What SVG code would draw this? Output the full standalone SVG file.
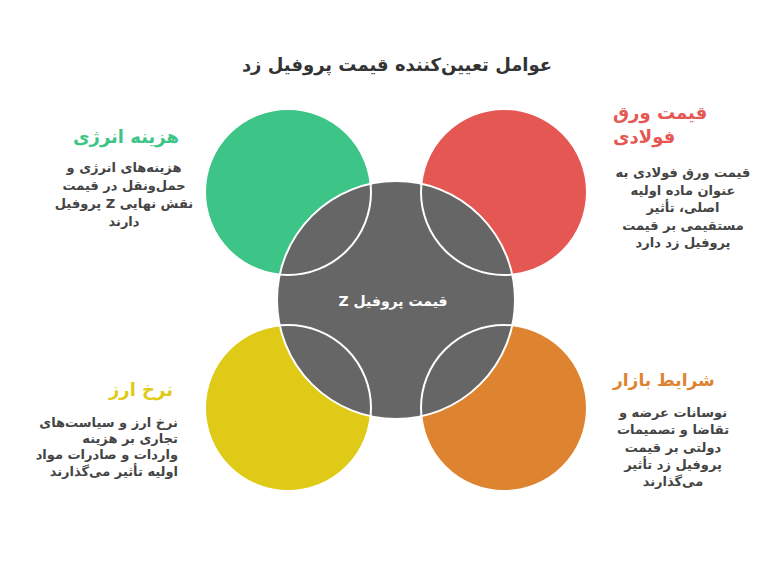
<svg xmlns="http://www.w3.org/2000/svg" xmlns:xlink="http://www.w3.org/1999/xlink" width="780" height="564" viewBox="0 0 780 564">
<style>
text{font-family:"DejaVu Sans","Noto Sans",sans-serif;font-weight:bold}
.title{font-size:18px;fill:#333333}
.head{font-size:18px}
.body{font-size:13px;fill:#444444}
.mid{text-anchor:middle}
.end{text-anchor:end}
.outline{fill:none;stroke:#ffffff;stroke-width:2}
</style>
<defs>
<circle id="s-energy" cx="288" cy="192" r="83"/>
<circle id="s-steel" cx="504" cy="192" r="83"/>
<circle id="s-fx" cx="288" cy="408" r="83"/>
<circle id="s-market" cx="504" cy="408" r="83"/>
</defs>
<rect width="780" height="564" fill="#ffffff"/>
<text class="title mid" x="397" y="71">عوامل تعیین‌کننده قیمت پروفیل زد</text>

<g id="node-energy">
<use xlink:href="#s-energy" fill="#3DC487"/>
<text class="head mid" x="126" y="143" fill="#3DC487">هزینه انرژی</text>
<text class="body mid"><tspan x="124" y="172">هزینه‌های انرژی و</tspan><tspan x="124" y="190">حمل‌ونقل در قیمت</tspan><tspan x="124" y="208">پروفیل Z  نقش نهایی</tspan><tspan x="124" y="226">دارند</tspan></text>
</g>

<g id="node-steel">
<use xlink:href="#s-steel" fill="#E55753"/>
<text class="head" fill="#E55753"><tspan x="613" y="119">قیمت ورق</tspan><tspan x="613" y="143">فولادی</tspan></text>
<text class="body mid"><tspan x="683" y="177">قیمت ورق فولادی به</tspan><tspan x="683" y="195">عنوان ماده اولیه</tspan><tspan x="683" y="212">اصلی، تأثیر</tspan><tspan x="683" y="230">مستقیمی بر قیمت</tspan><tspan x="683" y="247">پروفیل زد دارد</tspan></text>
</g>

<g id="node-fx">
<use xlink:href="#s-fx" fill="#DFCA17"/>
<text class="head end" x="173" y="396" fill="#DFCA17">نرخ ارز</text>
<text class="body end"><tspan x="178" y="427">نرخ ارز و سیاست‌های</tspan><tspan x="178" y="443">تجاری بر هزینه</tspan><tspan x="178" y="459">واردات و صادرات مواد</tspan><tspan x="178" y="476">اولیه تأثیر می‌گذارند</tspan></text>
</g>

<g id="node-market">
<use xlink:href="#s-market" fill="#DE8431"/>
<text class="head" x="613" y="386" fill="#DE8431" style="font-size:17px">شرایط بازار</text>
<text class="body mid"><tspan x="673" y="417">نوسانات عرضه و</tspan><tspan x="673" y="434">تقاضا و تصمیمات</tspan><tspan x="673" y="452">دولتی بر قیمت</tspan><tspan x="673" y="469">پروفیل  زد تأثیر</tspan><tspan x="673" y="486">می‌گذارند</tspan></text>
</g>

<g id="node-center">
<circle cx="396" cy="300" r="119" fill="#666666" stroke="#ffffff" stroke-width="2"/>
<use xlink:href="#s-energy" class="outline"/>
<use xlink:href="#s-steel" class="outline"/>
<use xlink:href="#s-fx" class="outline"/>
<use xlink:href="#s-market" class="outline"/>
<text class="mid" x="393" y="306" direction="rtl" font-size="14" fill="#ffffff">قیمت پروفیل  Z</text>
</g>
</svg>
